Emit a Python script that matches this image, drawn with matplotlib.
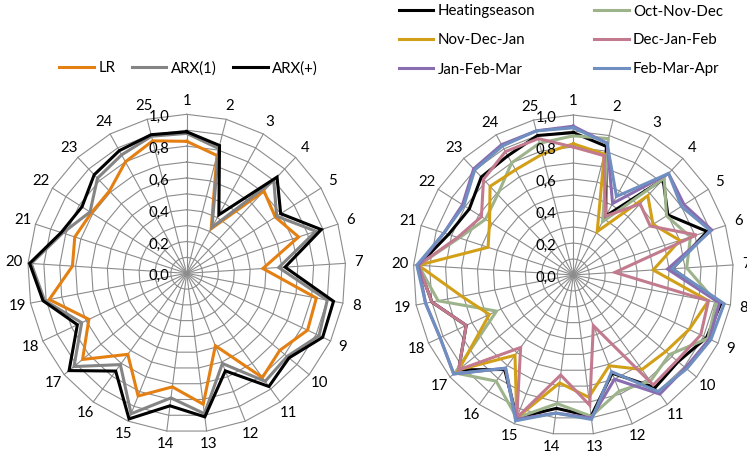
import numpy as np
import matplotlib
matplotlib.use("Agg")
import matplotlib.pyplot as plt

plt.rcParams["font.family"] = ["Lato", "DejaVu Sans"]
plt.rcParams["font.size"] = 10.8

spokes = [str(i) for i in range(1, 26)]
ring_labels = ["0,0", "0,2", "0,4", "0,6", "0,8", "1,0"]

# left chart: model comparison
lr = [0.83, 0.765, 0.32, 0.71, 0.66, 0.74, 0.48, 0.83, 0.84, 0.76, 0.81, 0.49, 0.83,
      0.72, 0.83, 0.63, 0.85, 0.68, 0.88, 0.72, 0.74, 0.71, 0.71, 0.80, 0.86]
arx1 = [0.88, 0.81, 0.33, 0.80, 0.67, 0.855, 0.58, 0.90, 0.92, 0.82, 0.84, 0.61, 0.89,
        0.79, 0.95, 0.71, 0.92, 0.73, 0.91, 0.98, 0.82, 0.72, 0.82, 0.85, 0.89]
arxp = [0.89, 0.83, 0.42, 0.83, 0.70, 0.89, 0.62, 0.94, 0.945, 0.835, 0.88, 0.66, 0.91,
        0.84, 0.985, 0.76, 0.96, 0.76, 0.92, 0.99, 0.83, 0.78, 0.85, 0.88, 0.90]

# right chart: training periods
heating = [0.89, 0.83, 0.42, 0.82, 0.70, 0.88, 0.62, 0.94, 0.92, 0.85, 0.87, 0.66, 0.89,
           0.84, 0.96, 0.73, 0.93, 0.74, 0.90, 0.97, 0.82, 0.77, 0.84, 0.85, 0.90]
ond = [0.87, 0.88, 0.38, 0.83, 0.69, 0.77, 0.71, 0.91, 0.93, 0.78, 0.82, 0.78, 0.89,
       0.81, 0.96, 0.82, 0.96, 0.53, 0.86, 0.97, 0.75, 0.65, 0.69, 0.80, 0.85]
ndj = [0.82, 0.78, 0.31, 0.68, 0.59, 0.70, 0.50, 0.86, 0.80, 0.75, 0.73, 0.61, 0.77,
       0.68, 0.96, 0.62, 0.93, 0.58, 0.71, 0.97, 0.56, 0.62, 0.76, 0.75, 0.78]
djf = [0.80, 0.77, 0.42, 0.61, 0.57, 0.81, 0.26, 0.86, 0.88, 0.84, 0.85, 0.34, 0.82,
       0.63, 0.96, 0.56, 0.93, 0.74, 0.90, 0.97, 0.76, 0.68, 0.82, 0.88, 0.88]
jfm = [0.93, 0.85, 0.51, 0.87, 0.82, 0.91, 0.59, 0.93, 0.94, 0.91, 0.92, 0.70, 0.90,
       0.87, 0.97, 0.72, 0.97, 0.92, 0.94, 0.97, 0.85, 0.82, 0.91, 0.93, 0.93]
fma = [0.92, 0.85, 0.56, 0.87, 0.80, 0.90, 0.62, 0.96, 0.95, 0.92, 0.90, 0.65, 0.91,
       0.87, 0.98, 0.72, 0.97, 0.92, 0.94, 0.98, 0.85, 0.81, 0.90, 0.92, 0.93]

left_names = ["LR", "ARX(1)", "ARX(+)"]
left_colors = ["#E47F12", "#848484", "#000000"]
right_names = ["Heatingseason", "Oct-Nov-Dec", "Nov-Dec-Jan",
               "Dec-Jan-Feb", "Jan-Feb-Mar", "Feb-Mar-Apr"]
right_colors = ["#000000", "#9DB38B", "#D2A018", "#C27A8E", "#8A6CB0", "#6F8FC0"]

grid_c = "#8C8C8C"


def radar(ax, series, colors, names):
    n = len(spokes)
    theta = np.arange(n) * 2 * np.pi / n
    closed = np.append(theta, theta[0])
    ax.set_theta_zero_location("N")
    ax.set_theta_direction(-1)
    ax.set_ylim(0, 1)
    ax.set_axis_off()
    # polygonal rings every 0.1 and one spoke per category
    for v in np.arange(1, 11) / 10:
        ax.plot(closed, [v] * (n + 1), color=grid_c, lw=0.8, zorder=1, clip_on=False)
    for t in theta:
        ax.plot([t, t], [0, 1], color=grid_c, lw=0.8, zorder=1, clip_on=False)
    lines = []
    for vals, c, name in zip(series, colors, names):
        ln, = ax.plot(closed, vals + vals[:1], color=c, lw=2.2, label=name,
                      zorder=3, clip_on=False, solid_joinstyle="miter")
        lines.append(ln)
    for i, lab in enumerate(ring_labels):
        ax.annotate(lab, xy=(0, i * 0.2), xytext=(-17, -3), textcoords="offset pixels",
                    ha="right", va="center", zorder=6)
    for t, s in zip(theta, spokes):
        ax.text(t, 1.085, s, ha="center", va="center")
    return lines


fig = plt.figure(figsize=(7.47, 4.53), dpi=100)
W, H = 747, 453
ax1 = fig.add_axes([(186.7 - 159) / W, (H - 273.3 - 159) / H, 318 / W, 318 / H],
                   projection="polar")
ax2 = fig.add_axes([(573.3 - 160) / W, (H - 275 - 160) / H, 320 / W, 320 / H],
                   projection="polar")

h1 = radar(ax1, [lr, arx1, arxp], left_colors, left_names)
h2 = radar(ax2, [heating, ond, ndj, djf, jfm, fma], right_colors, right_names)

fig.legend(h1, left_names, loc="center", bbox_to_anchor=(188.5 / W, 1 - 68.3 / H),
           ncol=3, frameon=False, handlelength=2.3, handletextpad=0.3,
           columnspacing=1.1)
order = [0, 2, 4, 1, 3, 5]
fig.legend([h2[i] for i in order], [right_names[i] for i in order], loc="center",
           bbox_to_anchor=(561 / W, 1 - 40.5 / H), ncol=2, frameon=False,
           handlelength=2.3, handletextpad=0.3, columnspacing=3.9, labelspacing=1.0)

fig.savefig("out.png", dpi=100)
